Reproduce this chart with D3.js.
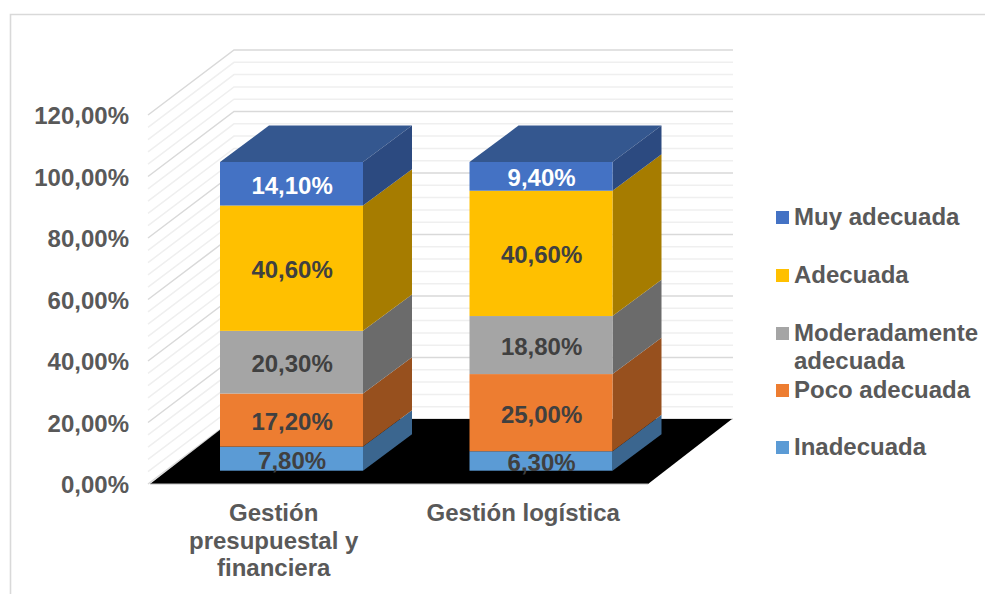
<!DOCTYPE html>
<html>
<head>
<meta charset="utf-8">
<script src="https://cdn.jsdelivr.net/npm/d3@7"></script>
<style>
  html, body { margin: 0; padding: 0; background: #fff; }
  svg { display: block; }
  text { font-family: "Liberation Sans", Arial, sans-serif; font-weight: 700; }
</style>
</head>
<body>
<svg id="chart" width="985" height="594"></svg>
<script>
// Stacked from the bottom of each column upward
const categories = [["Gestión", "presupuestal y", "financiera"], ["Gestión logística"]];
const seriesNames = ["Inadecuada", "Poco adecuada", "Moderadamente adecuada", "Adecuada", "Muy adecuada"];
const inadecuada = [7.8, 6.3];
const pocoAdecuada = [17.2, 25.0];
const moderadamente = [20.3, 18.8];
const adecuada = [40.6, 40.6];
const muyAdecuada = [14.1, 9.4];
const axisTicks = [0, 20, 40, 60, 80, 100, 120];
const minorTicks = [4, 8, 12, 16, 24, 28, 32, 36, 44, 48, 52, 56, 64, 68, 72, 76, 84, 88, 92, 96, 104, 108, 112, 116];

const frontColors = ["#5b9bd5", "#ed7d31", "#a5a5a5", "#ffc000", "#4472c4"];
const sideColors = ["#3b668f", "#97501e", "#6b6b6b", "#a67c00", "#2c4a80"];
const topColor = "#34578f";

const svg = d3.select("#chart");
const pct = v => v.toFixed(2).replace(".", ",") + "%";

// Outer frame: only the top and left edges fall inside the view
svg.append("path")
  .attr("d", "M10.5,594V14.5H985")
  .attr("fill", "none").attr("stroke", "#d9d9d9").attr("stroke-width", 1.6);

// Wall scale and the oblique offset from the front plane to the back wall
const yWall = d3.scaleLinear().domain([0, 120]).range([484, 115]);
const wall = { x0: 148, x1: 234, x2: 733, dy: -65 };

const drawGrid = (ticks, color) => {
  svg.append("g").selectAll("path").data(ticks).join("path")
    .attr("d", d => `M${wall.x0},${yWall(d)}L${wall.x1},${yWall(d) + wall.dy}H${wall.x2}`)
    .attr("fill", "none").attr("stroke", color).attr("stroke-width", 1.5);
};
drawGrid(minorTicks, "#efefef");
drawGrid(axisTicks, "#d9d9d9");

// Floor
svg.append("path")
  .attr("d", `M150,${yWall(0)}L${wall.x1},${yWall(0) + wall.dy}H732L648,${yWall(0)}Z`)
  .attr("fill", "#000");
svg.append("line")
  .attr("x1", 150).attr("x2", 648).attr("y1", yWall(0)).attr("y2", yWall(0))
  .attr("stroke", "#bfbfbf").attr("stroke-width", 1);

// Value axis
const axis = d3.axisLeft(yWall).tickValues(axisTicks).tickFormat(pct).tickSize(0).tickPadding(0);
const axisG = svg.append("g").attr("transform", "translate(129,1.2)").call(axis);
axisG.select(".domain").remove();
axisG.selectAll("text")
  .attr("fill", "#595959").attr("font-size", 24)
  .style("font-family", '"Liberation Sans", Arial, sans-serif');

// Columns
const x = d3.scaleBand().domain(d3.range(categories.length)).range([220, 612.5]).paddingInner(0.4269).paddingOuter(0);
const yBar = d3.scaleLinear().domain([0, 100]).range([470.7, 162]);
const depth = { dx: 49, dy: -36.4 };

const seriesValues = [inadecuada, pocoAdecuada, moderadamente, adecuada, muyAdecuada];
const rows = categories.map((_, i) => {
  const row = {};
  seriesNames.forEach((n, s) => { row[n] = seriesValues[s][i]; });
  return row;
});
const stacked = d3.stack().keys(seriesNames)(rows);

const bars = svg.append("g");
categories.forEach((_, i) => {
  const g = bars.append("g");
  const left = x(i), right = left + x.bandwidth();
  stacked.forEach((layer, s) => {
    const [v0, v1] = layer[i];
    const yTop = yBar(Math.min(v1, 100)), yBottom = yBar(v0);
    g.append("path")
      .attr("d", `M${right},${yBottom}l${depth.dx},${depth.dy}V${yTop + depth.dy}L${right},${yTop}Z`)
      .attr("fill", sideColors[s]);
    g.append("rect")
      .attr("x", left).attr("y", yTop).attr("width", x.bandwidth()).attr("height", yBottom - yTop)
      .attr("fill", frontColors[s]);
    g.append("text")
      .attr("x", (left + right) / 2 + 0.6).attr("y", (yTop + yBottom) / 2).attr("dy", "0.41em")
      .attr("text-anchor", "middle").attr("font-size", 24)
      .attr("fill", s === 4 ? "#ffffff" : "#404040")
      .text(pct(layer[i].data[seriesNames[s]]));
  });
  const yRoof = yBar(100);
  g.insert("path", ":first-child")
    .attr("d", `M${left},${yRoof}l${depth.dx},${depth.dy}H${right + depth.dx}L${right},${yRoof}Z`)
    .attr("fill", topColor);
});

// Category labels sit on the floor's front edge, shifted left of the columns
const labelLines = [521, 549, 576];
const catG = svg.append("g");
categories.forEach((lines, i) => {
  lines.forEach((line, j) => {
    catG.append("text")
      .attr("x", x(i) + x.bandwidth() / 2 - 17.8).attr("y", labelLines[j])
      .attr("text-anchor", "middle").attr("font-size", 24).attr("fill", "#595959")
      .text(line);
  });
});

// Legend, top of the stack first
const legendEntries = [
  { s: 4, lines: ["Muy adecuada"], y: 225 },
  { s: 3, lines: ["Adecuada"], y: 283 },
  { s: 2, lines: ["Moderadamente", "adecuada"], y: 341 },
  { s: 1, lines: ["Poco adecuada"], y: 398 },
  { s: 0, lines: ["Inadecuada"], y: 455 }
];
const legend = svg.append("g");
legendEntries.forEach(e => {
  legend.append("rect")
    .attr("x", 776).attr("y", e.y - 14).attr("width", 13).attr("height", 13)
    .attr("fill", frontColors[e.s]);
  e.lines.forEach((line, j) => {
    legend.append("text")
      .attr("x", 794).attr("y", e.y + j * 27.5)
      .attr("font-size", 24).attr("fill", "#595959")
      .text(line);
  });
});
</script>
</body>
</html>
